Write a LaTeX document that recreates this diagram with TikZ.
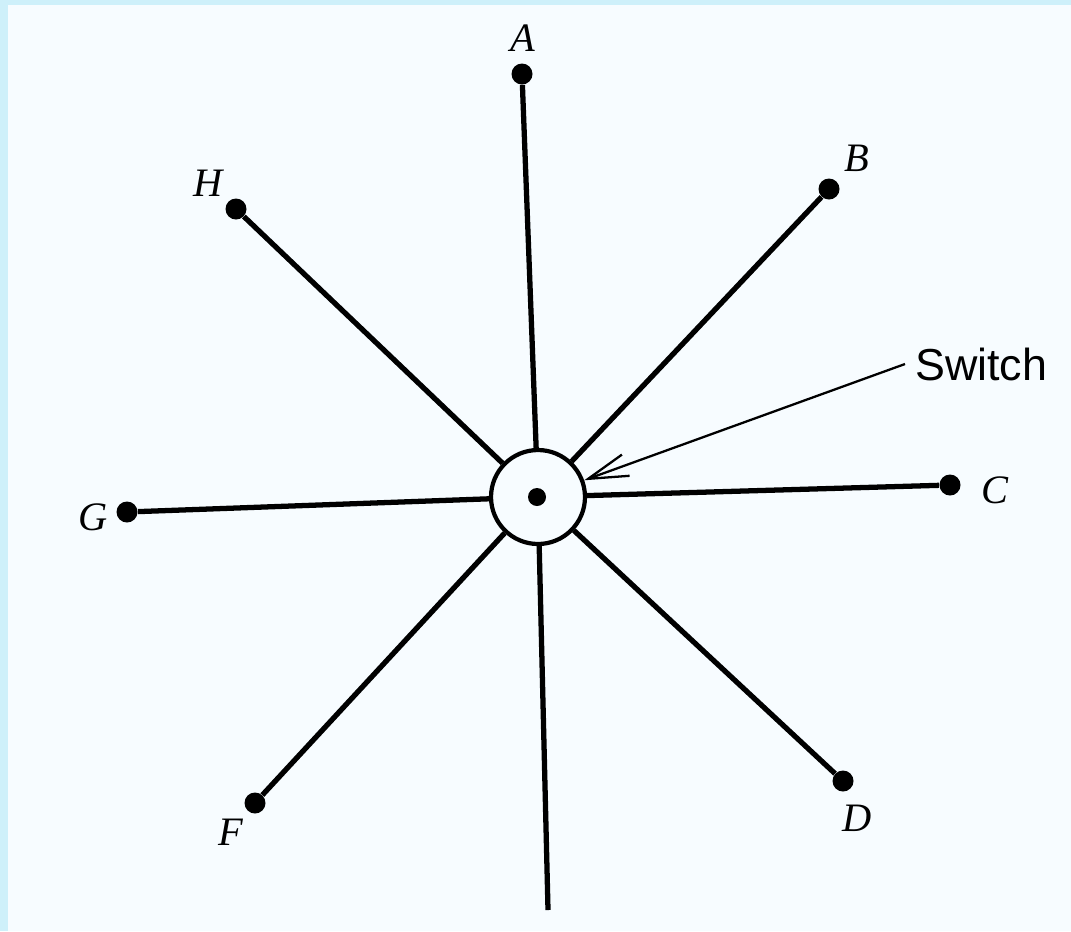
\documentclass[tikz,border=0pt]{standalone}
\usepackage{fontspec}
\setmainfont{Liberation Serif}
\setsansfont{Liberation Sans}
\usepackage{tikz}
\usetikzlibrary{arrows.meta}
\definecolor{paper}{RGB}{247,252,255}
\definecolor{frame}{RGB}{206,240,250}

\begin{document}
\begin{tikzpicture}[x=0.02cm,y=-0.02cm,
    spoke/.style={line width=3pt},
    dot/.style={circle,fill=black,inner sep=0pt,minimum size=0.42cm},
    lbl/.style={font=\fontsize{23}{25}\selectfont\itshape}]

        % Paper and frame
        \fill[paper] (0,0) rectangle (1071,931);
        \fill[frame] (0,0) rectangle (8,931);
        \fill[frame] (0,0) rectangle (1071,5);
        \useasboundingbox (0,0) rectangle (1071,931);

        % Hub
        \node[circle,draw,line width=2.4pt,minimum size=1.88cm,inner sep=0pt] (hub) at (538,497) {};
        \fill (537,497) circle (0.18cm);

        % Stations
        \node[dot] (a) at (522,74) {};
        \node[dot] (b) at (829,189) {};
        \node[dot] (c) at (950,485) {};
        \node[dot] (d) at (843,781) {};
        \coordinate (e) at (548,910);
        \node[dot] (f) at (255,803) {};
        \node[dot] (g) at (127,512) {};
        \node[dot] (h) at (236,209) {};

        % Spokes
        \foreach \s in {a,b,c,d,e,f,g,h}
            \draw[spoke] (hub) -- (\s);

        % Labels
        \node[lbl] (la) at (523,38) {A};
        \node[lbl] (lb) at (857,158) {B};
        \node[lbl] (lc) at (995,490) {C};
        \node[lbl] (ld) at (857,818) {D};
        \node[lbl] (lf) at (231,832) {F};
        \node[lbl] (lg) at (93,517) {G};
        \node[lbl] (lh) at (208,183) {H};

        % Switch
        \node[anchor=west,inner sep=0pt,font=\sffamily\fontsize{25.5}{28}\selectfont] (switch) at (915,364) {Switch};
        \draw[line width=1.3pt,-{Straight Barb[length=0.8cm,width=0.45cm]}] ([xshift=-0.2cm]switch.west) -- (hub);

    \end{tikzpicture}
\end{document}
